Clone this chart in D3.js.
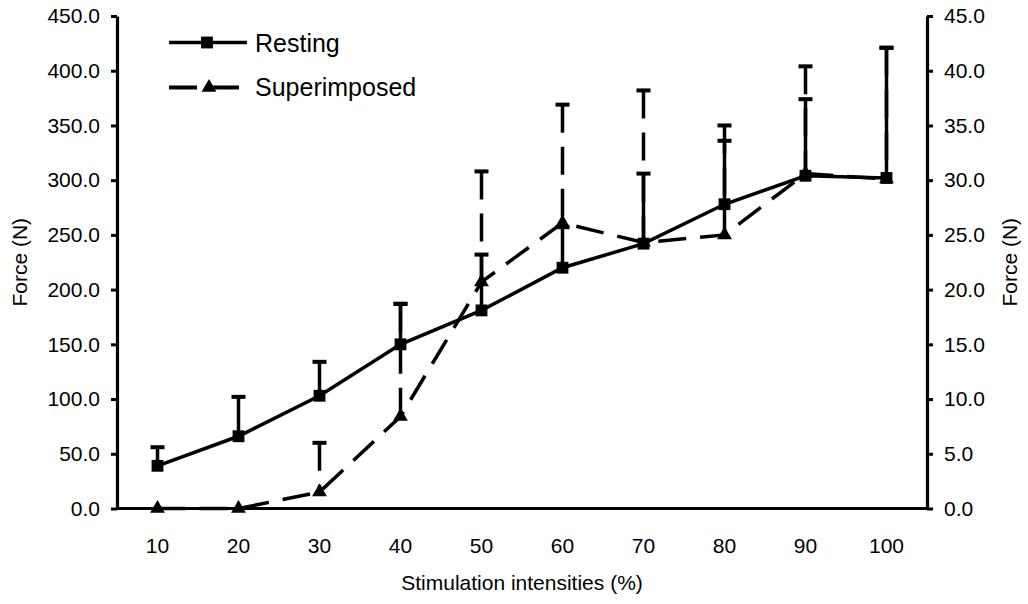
<!DOCTYPE html>
<html>
<head>
<meta charset="utf-8">
<script src="https://cdn.jsdelivr.net/npm/d3@7"></script>
<style>
  html, body { margin: 0; padding: 0; background: #fff; }
  svg { display: block; }
  text { font-family: "Liberation Sans", Arial, sans-serif; fill: #000; }
</style>
</head>
<body>
<svg id="chart" width="1028" height="604"></svg>
<script>
// ---- data ----
const categories = ["10", "20", "30", "40", "50", "60", "70", "80", "90", "100"];
const restingMean = [39, 66, 103, 150, 181, 220, 242, 278, 304, 302];
const restingSD   = [17, 36, 31, 37, 51, 37, 64, 58, 70, 119];
const superMean   = [0, 0, 1.5, 8.4, 20.7, 26.1, 24.3, 25.0, 30.6, 30.1];
const superSD     = [0, 0, 4.5, 10.3, 10.1, 10.8, 13.9, 10.0, 9.8, 12.0];
const leftTicks  = [0, 50, 100, 150, 200, 250, 300, 350, 400, 450];
const rightTicks = [0, 5, 10, 15, 20, 25, 30, 35, 40, 45];
const seriesNames = ["Resting", "Superimposed"];
const xTitle = "Stimulation intensities (%)";
const yTitle = "Force (N)";

// ---- layout ----
const svg = d3.select("#chart");
const L = 117, R = 927, T = 16, B = 508.5;
const x = d3.scaleBand().domain(categories).range([L, R]);
const yL = d3.scaleLinear().domain([0, 450]).range([B, T]);
const yR = d3.scaleLinear().domain([0, 45]).range([B, T]);
const cx = c => x(c) + x.bandwidth() / 2;
const fmt = d3.format(".1f");
const DASH = "28,14";

// axes
const gL = svg.append("g").attr("transform", `translate(${L},0)`)
  .call(d3.axisLeft(yL).tickValues(leftTicks).tickFormat(fmt).tickSize(6).tickSizeOuter(0).tickPadding(11));
const gR = svg.append("g").attr("transform", `translate(${R},0)`)
  .call(d3.axisRight(yR).tickValues(rightTicks).tickFormat(fmt).tickSize(6).tickSizeOuter(0).tickPadding(11));
const gX = svg.append("g").attr("transform", `translate(0,${B})`)
  .call(d3.axisBottom(x).tickSize(0).tickSizeOuter(0).tickPadding(30));
[gL, gR, gX].forEach(g => {
  g.select(".domain").attr("stroke", "#000").attr("stroke-width", 3.2);
  g.selectAll(".tick line").attr("stroke", "#000").attr("stroke-width", 3);
  g.selectAll(".tick text").attr("font-size", 21).attr("font-family", '"Liberation Sans", Arial, sans-serif').attr("fill", "#000");
});
gX.select(".domain").attr("d", `M${L},0H${R}`);

// titles
svg.append("text").attr("x", (L + R) / 2).attr("y", 590).attr("text-anchor", "middle")
  .attr("font-size", 21).text(xTitle);
svg.append("text").attr("transform", `translate(27,${(T + B) / 2}) rotate(-90)`).attr("text-anchor", "middle")
  .attr("font-size", 21).text(yTitle);
svg.append("text").attr("transform", `translate(1017,${(T + B) / 2}) rotate(-90)`).attr("text-anchor", "middle")
  .attr("font-size", 21).text(yTitle);

// data objects
const rest = categories.map((c, i) => ({ c, m: restingMean[i], sd: restingSD[i] }));
const sup = categories.map((c, i) => ({ c, m: superMean[i], sd: superSD[i] }));

// error bars (upper only)
const cap = 7;
function errBars(data, y, dash) {
  const g = svg.append("g").attr("stroke", "#000").attr("fill", "none");
  const d = data.filter(p => p.sd > 0);
  g.selectAll("line.v").data(d).join("line").attr("class", "v")
    .attr("x1", p => cx(p.c)).attr("x2", p => cx(p.c))
    .attr("y1", p => y(p.m + p.sd)).attr("y2", p => y(p.m))
    .attr("stroke-width", 3.5).attr("stroke-dasharray", dash || null);
  g.selectAll("line.h").data(d).join("line").attr("class", "h")
    .attr("x1", p => cx(p.c) - cap).attr("x2", p => cx(p.c) + cap)
    .attr("y1", p => y(p.m + p.sd)).attr("y2", p => y(p.m + p.sd))
    .attr("stroke-width", 4);
}
errBars(rest, yL, null);
errBars(sup, yR, DASH);

// lines
const lineR = d3.line().x(p => cx(p.c)).y(p => yL(p.m));
const lineS = d3.line().x(p => cx(p.c)).y(p => yR(p.m));
svg.append("path").datum(sup).attr("d", lineS).attr("fill", "none").attr("stroke", "#000")
  .attr("stroke-width", 3.5).attr("stroke-dasharray", DASH);
svg.append("path").datum(rest).attr("d", lineR).attr("fill", "none").attr("stroke", "#000")
  .attr("stroke-width", 3.5);

// markers
const sq = d3.symbol().type(d3.symbolSquare).size(140);
const tri = d3.symbol().type(d3.symbolTriangle).size(95);
svg.append("g").selectAll("path").data(rest).join("path")
  .attr("transform", p => `translate(${cx(p.c)},${yL(p.m)})`).attr("d", sq).attr("fill", "#000");
svg.append("g").selectAll("path").data(sup).join("path")
  .attr("transform", p => `translate(${cx(p.c)},${yR(p.m)})`).attr("d", tri).attr("fill", "#000");

// legend
const lg = svg.append("g");
lg.append("line").attr("x1", 169).attr("x2", 247).attr("y1", 42.5).attr("y2", 42.5)
  .attr("stroke", "#000").attr("stroke-width", 3.5);
lg.append("path").attr("transform", "translate(207,42.5)").attr("d", sq).attr("fill", "#000");
lg.append("text").attr("x", 255).attr("y", 52).attr("font-size", 25).text(seriesNames[0]);
lg.append("line").attr("x1", 169).attr("x2", 240).attr("y1", 87.5).attr("y2", 87.5)
  .attr("stroke", "#000").attr("stroke-width", 4).attr("stroke-dasharray", DASH);
lg.append("path").attr("transform", "translate(209,87.5)").attr("d", tri).attr("fill", "#000");
lg.append("text").attr("x", 255).attr("y", 95.5).attr("font-size", 25).text(seriesNames[1]);
</script>
</body>
</html>
